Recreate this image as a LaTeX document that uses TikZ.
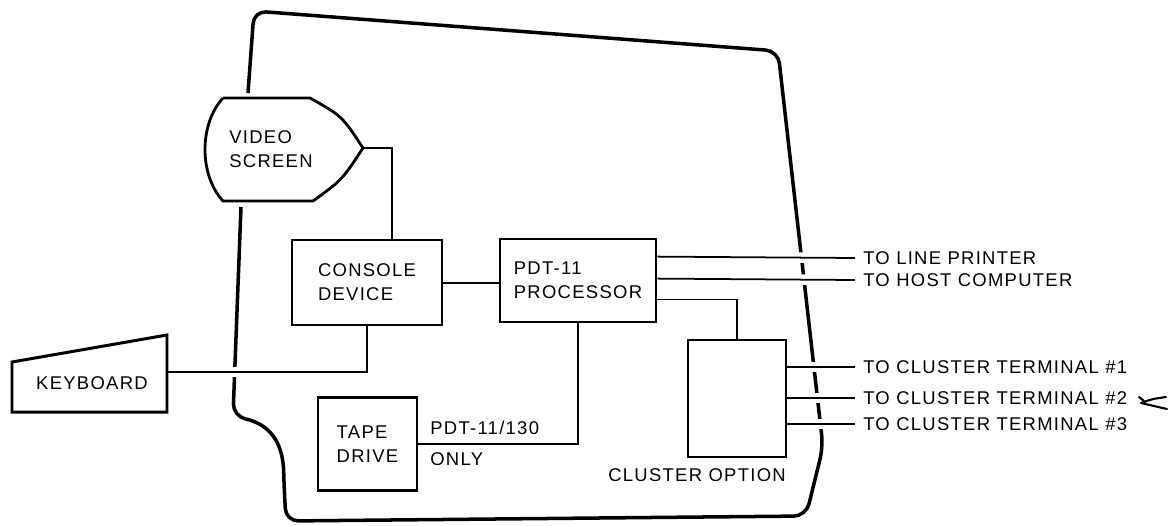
\documentclass[tikz,border=0pt]{standalone}
\usepackage{fontspec}
\setmainfont{Liberation Sans}[LetterSpace=7]
\usetikzlibrary{calc}

\begin{document}
\begin{tikzpicture}[
  x=0.02cm, y=-0.02cm,
  every node/.style={font=\fontsize{10.5}{13.6}\selectfont},
  unit/.style={rectangle, draw, line width=1.6pt, align=left},
  shell/.style={line width=2pt, rounded corners=7pt},
  wire/.style={line width=1pt},
  gap/.style={preaction={draw=white, line width=6pt, shorten <=4pt, shorten >=4pt}},
  outlbl/.style={anchor=west, inner xsep=4.5pt, inner ysep=0pt},
]
\useasboundingbox (0,0) rectangle (1173,525);

% cabinet outline
\draw[shell] (241,207) -- (233,416) .. controls (268,424) and (283,440) .. (284,485)
  -- (286,521) -- (806,516) -- (823,447) -- (778,51) -- (254,11) -- (248,93);

% video screen and keyboard
\draw[line width=1.6pt] (223,98) -- (310,98) .. controls (342,116) .. (363,148)
  .. controls (342,180) .. (313,201) -- (223,201) .. controls (199,175) and (199,124) .. (223,98);
\node (video) at (271,149) [align=left] {VIDEO\\SCREEN};
\coordinate (vtip) at (363,148);
\draw[line width=1.7pt] (12,362) -- (167,335) -- (167,412) -- (12,412) -- cycle;
\node (kbd) at (92,383) {KEYBOARD};
\coordinate (kbdR) at (167,372);

% units
\node[unit, minimum width=3cm, minimum height=1.7cm] (console) at (367,282.5) {CONSOLE\\DEVICE};
\node[unit, minimum width=3.12cm, minimum height=1.66cm] (proc) at (578,280.5) {PDT-11\\PROCESSOR};
\node[unit, minimum width=1.98cm, minimum height=1.86cm] (tape) at (367.5,444) {TAPE\\DRIVE};
\node[unit, minimum width=1.96cm, minimum height=2.34cm] (cluster) at (737,398.5) {};
\node (clbl) at (697,475) {CLUSTER OPTION};

% outside labels
\node[outlbl] (lp) at (855,258) {TO LINE PRINTER};
\node[outlbl] (host) at (855,280) {TO HOST COMPUTER};
\node[outlbl] (ct1) at (855,367) {TO CLUSTER TERMINAL \#1};
\node[outlbl] (ct2) at (855,398) {TO CLUSTER TERMINAL \#2};
\node[outlbl] (ct3) at (855,424) {TO CLUSTER TERMINAL \#3};
\node[anchor=west, inner sep=0pt] (only1) at (430,428) {PDT-11/130};
\node[anchor=west, inner sep=0pt] (only2) at (430,459) {ONLY};

% connections
\draw[wire] (vtip) -| ($(console.north)+(25,0)$);
\draw[wire] (console.east |- 0,283) -- (proc.west |- 0,283);
\draw[wire, gap] (kbdR) -| (console.south);
\draw[wire] (proc.south) |- (tape.east);
\draw[wire, gap] ($(proc.north east)+(0,19)$) -- (lp.west);
\draw[wire, gap] ($(proc.north east)+(0,41)$) -- (host.west);
\draw[wire] ($(proc.north east)+(0,62)$) -| (cluster.north);
\draw[wire, gap] (cluster.east |- ct1.west) -- (ct1.west);
\draw[wire, gap] (cluster.east |- ct2.west) -- (ct2.west);
\draw[wire, gap] (cluster.east |- ct3.west) -- (ct3.west);

% hand mark
\draw[line width=1.2pt, line cap=round, line join=round]
  (1166,397) .. controls (1152,399) .. (1141,403) -- (1167,409);
\draw[line width=1.2pt, line cap=round] (1139,397) -- (1144,401);

\end{tikzpicture}
\end{document}
